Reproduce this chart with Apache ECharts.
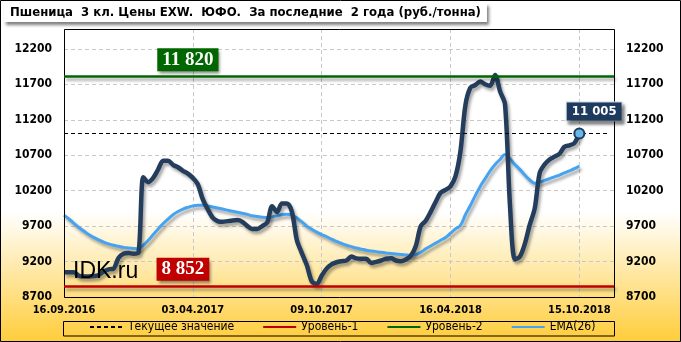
<!DOCTYPE html>
<html><head><meta charset="utf-8">
<script src="https://cdn.jsdelivr.net/npm/echarts@6/dist/echarts.min.js"></script>
<style>html,body{margin:0;padding:0;background:#fff}#c{width:681px;height:342px}</style>
</head><body><div id="c"></div>
<script>
const titleText = 'Пшеница  3 кл. Цены EXW.  ЮФО.  За последние  2 года (руб./тонна)';
const tickLabels = ['16.09.2016', '03.04.2017', '09.10.2017', '16.04.2018', '15.10.2018'];
const tickStep = 26;
const categoryCount = 112;
const price = [
  9050, 9050, 9050, 9000, 8990, 8990, 8995, 9010, 9060, 9090,
  9100, 9250, 9310, 9320, 9310, 9320, 10390, 10320, 10380, 10500,
  10620, 10620, 10565, 10530, 10480, 10440, 10380, 10290, 10080, 9940,
  9820, 9770, 9760, 9770, 9780, 9785, 9760, 9700, 9660, 9660,
  9700, 9750, 9980, 9900, 10020, 10020, 9900, 9500, 9320, 9150,
  8920, 8880, 9000, 9100, 9160, 9190, 9205, 9215, 9270, 9245,
  9240, 9240, 9180, 9195, 9215, 9240, 9245, 9215, 9205, 9230,
  9280, 9420, 9700, 9775, 9900, 10040, 10170, 10210, 10260, 10400,
  10750, 11400, 11650, 11690, 11740, 11700, 11680, 11830, 11600, 11420,
  10000, 9230, 9270, 9450, 9720, 9950, 10450, 10570, 10640, 10680,
  10720, 10820, 10840, 10870, 11005
];
const ema = [
  9855, 9800, 9740, 9680, 9630, 9580, 9540, 9505, 9475, 9450,
  9430, 9415, 9400, 9392, 9385, 9380, 9430, 9500, 9580, 9660,
  9735, 9800, 9860, 9905, 9940, 9965, 9985, 9995, 9995, 9985,
  9970, 9955, 9940, 9925, 9910, 9895, 9880, 9865, 9845, 9835,
  9825, 9820, 9830, 9845, 9860, 9868, 9855, 9815, 9760, 9700,
  9655, 9615, 9580, 9550, 9515, 9485, 9455, 9430, 9410, 9390,
  9375, 9360, 9350, 9340, 9330, 9322, 9315, 9308, 9300, 9293,
  9288, 9300, 9330, 9380, 9420, 9460, 9500, 9540, 9600, 9660,
  9710, 9860, 9990, 10130, 10260, 10370, 10480, 10570, 10640, 10710,
  10650, 10570, 10500, 10420, 10350, 10305, 10320, 10345, 10370, 10395,
  10420, 10450, 10480, 10510, 10545
];
const currentValue = 11005;
const level1 = 8852;
const level2 = 11820;
const legendNames = ['Текущее значение', 'Уровень-1', 'Уровень-2', 'EMA(26)'];
const watermark = 'IDK.ru';

const categories = [];
for (let i = 0; i < categoryCount; i++) categories.push(String(i));
const F = '"DejaVu Sans Condensed", "DejaVu Sans", sans-serif';
const SERIF = '"Liberation Serif", serif';
const fmt = v => String(v).replace(/\B(?=(\d{3})+(?!\d))/g, ' ');
const lastIdx = price.length - 1;
const lastCat = categoryCount - 1;
const sh = { shadowColor: 'rgba(0,0,0,0.35)', shadowBlur: 3, shadowOffsetX: 2, shadowOffsetY: 3 };
const GREEN = '#006600', RED = '#c00000', NAVY = '#243d5c', BLUE = '#45a3f2';

function tag(idx, val, text, bgc, family, size, dy, extra) {
  return {
    coord: [idx, val], symbol: 'rect', symbolSize: 1,
    itemStyle: { color: 'rgba(0,0,0,0)' },
    label: Object.assign({
      show: true, position: 'inside', offset: [0, dy], formatter: text,
      backgroundColor: bgc, color: '#fff', fontFamily: family, fontSize: size, fontWeight: 'bold',
      padding: [3, 5, 1, 5], shadowColor: 'rgba(0,0,0,0.45)', shadowBlur: 3, shadowOffsetX: 2, shadowOffsetY: 3
    }, extra || {})
  };
}

const chart = echarts.init(document.getElementById('c'), null, { renderer: 'canvas' });
const bg = new echarts.graphic.LinearGradient(0, 0, 0, 1, [
  { offset: 0, color: '#ffffff' }, { offset: 0.62, color: '#ffffff' }, { offset: 1, color: '#ffcd3a' }
]);
const yAxisBase = {
  type: 'value', min: 8700, max: 12480, interval: 500,
  axisLine: { show: false }, axisTick: { show: false },
  axisLabel: { showMaxLabel: false, formatter: v => String(v), fontFamily: F, fontSize: 12, fontWeight: 'bold', color: '#000', margin: 12 }
};
chart.setOption({
  animation: false,
  backgroundColor: bg,
  title: {
    text: titleText, left: 4, top: 3, padding: [3, 6, 3, 6], backgroundColor: '#fff',
    shadowColor: 'rgba(0,0,0,0.5)', shadowBlur: 3, shadowOffsetX: 2, shadowOffsetY: 3,
    textStyle: { fontFamily: F, fontSize: 13, fontWeight: 'bold', color: '#000' }
  },
  grid: { left: 64, right: 67, top: 29, bottom: 45, show: false },
  legend: {
    data: legendNames, left: 89, top: 321, itemWidth: 33, itemHeight: 14, itemGap: 28, padding: 0,
    selectedMode: false, itemStyle: { opacity: 0, borderWidth: 0 },
    textStyle: { fontFamily: F, fontSize: 12, color: '#000' }
  },
  xAxis: {
    type: 'category', data: categories, boundaryGap: false,
    axisLine: { show: false }, axisTick: { show: false },
    axisLabel: {
      interval: i => i % tickStep === 0, formatter: (v, i) => tickLabels[i / tickStep] || '',
      fontFamily: F, fontSize: 11, fontWeight: 'bold', color: '#000', margin: 8
    },
    splitLine: { show: true, interval: i => i % tickStep === 0 && i > 0, lineStyle: { color: '#c8c8c8', type: [4, 3] } }
  },
  yAxis: [
    Object.assign({}, yAxisBase, { position: 'left', splitLine: { show: true, lineStyle: { color: '#c8c8c8', type: [4, 3] } } }),
    Object.assign({}, yAxisBase, { position: 'right', splitLine: { show: false } })
  ],
  series: [
    {
      name: 'Уровень-1', type: 'line', data: [], symbol: 'none', lineStyle: { color: RED, width: 3 }, itemStyle: { color: RED },
      markLine: { silent: true, symbol: 'none', label: { show: false },
        lineStyle: Object.assign({ color: RED, width: 2.5, type: 'solid' }, sh),
        data: [[{ coord: [0, level1] }, { coord: [lastCat, level1] }]] },
      markPoint: { silent: true, z: 10, data: [tag(24, level1, fmt(level1), RED, SERIF, 19, -17)] }
    },
    {
      name: 'Уровень-2', type: 'line', data: [], symbol: 'none', lineStyle: { color: GREEN, width: 3 }, itemStyle: { color: GREEN },
      markLine: { silent: true, symbol: 'none', label: { show: false },
        lineStyle: Object.assign({ color: GREEN, width: 2.5, type: 'solid' }, sh),
        data: [[{ coord: [0, level2] }, { coord: [lastCat, level2] }]] },
      markPoint: { silent: true, z: 10, data: [tag(25, level2, fmt(level2), GREEN, SERIF, 19, -16)] }
    },
    {
      name: 'Текущее значение', type: 'line', data: [], symbol: 'none', lineStyle: { color: '#000', width: 1, type: [4, 3] }, itemStyle: { color: '#000' },
      markLine: { silent: true, symbol: 'none', label: { show: false },
        lineStyle: { color: '#000', width: 1, type: [4, 3] },
        data: [[{ coord: [0, currentValue] }, { coord: [lastCat - 1, currentValue] }]] }
    },
    {
      name: 'EMA(26)', type: 'line', data: ema, symbol: 'none', smooth: 0.4,
      lineStyle: Object.assign({ color: BLUE, width: 3 }, sh), itemStyle: { color: BLUE }
    },
    {
      name: 'price', type: 'line', data: price, symbol: 'none', smooth: 0.3,
      lineStyle: Object.assign({ color: NAVY, width: 4.5 }, sh), itemStyle: { color: NAVY },
      markPoint: { silent: true, z: 10, data: [
        { coord: [lastIdx, price[lastIdx]], symbol: 'circle', symbolSize: 10,
          itemStyle: { color: '#66b8e6', borderColor: '#1f3a5f', borderWidth: 2 }, label: { show: false } },
        tag(107, currentValue, fmt(currentValue), '#1f3a5f', F, 13, -22, { borderColor: '#c9d3de', borderWidth: 1, padding: [3, 5, 2, 5] })
      ] }
    }
  ],
  graphic: [
    { type: 'rect', z: 4, silent: true, shape: { x: 64.5, y: 29.5, width: 550, height: 268 }, style: { fill: 'none', stroke: '#000', lineWidth: 1 } },
    { type: 'rect', z: 100, silent: true, shape: { x: 0.5, y: 0.5, width: 680, height: 341 }, style: { fill: 'none', stroke: '#000', lineWidth: 1 } },
    { type: 'rect', z: 100, silent: true, shape: { x: 63.5, y: 321.5, width: 551, height: 14.5 }, style: { fill: 'none', stroke: '#000', lineWidth: 1 } },
    { type: 'text', z: 100, silent: true, x: 73, y: 272, style: { text: watermark, font: '23px "Liberation Sans", Arial, sans-serif', fill: '#000', verticalAlign: 'middle' } }
  ]
});
</script></body></html>
